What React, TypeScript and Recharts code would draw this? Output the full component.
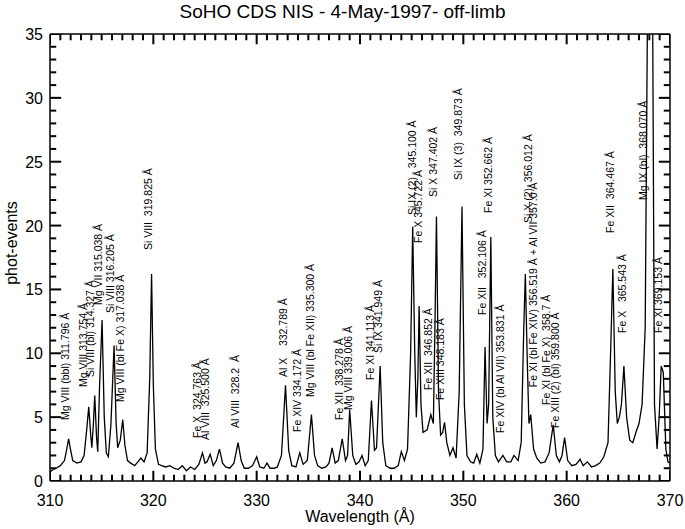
import { ComposedChart, Line, Scatter, XAxis, YAxis } from 'recharts';

// spectrum
const wavelength = [
  310.0, 310.3, 310.6, 311.0, 311.4, 311.6, 311.8, 312.0, 312.2, 312.6,
  313.0, 313.3, 313.55, 313.75, 313.95, 314.05, 314.2, 314.33, 314.5, 314.62,
  314.8, 315.04, 315.25, 315.45, 315.65, 315.9, 316.2, 316.4, 316.55, 316.8,
  317.04, 317.25, 317.5, 317.8, 318.2, 318.6, 318.8, 319.1, 319.4, 319.65,
  319.83, 320.0, 320.2, 320.5, 320.8, 321.2, 321.6, 322.0, 322.4, 322.8,
  323.2, 323.6, 324.0, 324.4, 324.76, 325.0, 325.2, 325.5, 325.8, 326.1,
  326.4, 326.7, 327.0, 327.4, 327.8, 328.2, 328.5, 328.8, 329.2, 329.6,
  330.0, 330.3, 330.7, 331.0, 331.3, 331.7, 332.0, 332.4, 332.79, 333.1,
  333.4, 333.8, 334.17, 334.5, 334.9, 335.3, 335.6, 335.9, 336.3, 336.7,
  337.0, 337.3, 337.6, 337.9, 338.28, 338.6, 338.8, 339.0, 339.3, 339.6,
  339.9, 340.2, 340.5, 340.8, 341.11, 341.4, 341.6, 341.95, 342.2, 342.5,
  342.9, 343.3, 343.7, 344.0, 344.3, 344.6, 344.9, 345.1, 345.3, 345.45,
  345.6, 345.72, 345.9, 346.1, 346.5, 346.85, 347.1, 347.25, 347.4, 347.6,
  347.8, 348.0, 348.18, 348.4, 348.7, 349.0, 349.3, 349.6, 349.87, 350.1,
  350.35, 350.7, 351.0, 351.3, 351.6, 351.9, 352.1, 352.3, 352.45, 352.66,
  352.85, 353.1, 353.4, 353.83, 354.2, 354.6, 354.9, 355.3, 355.6, 355.85,
  356.0, 356.2, 356.35, 356.52, 356.8, 357.1, 357.5, 357.9, 358.3, 358.7,
  359.0, 359.3, 359.55, 359.8, 360.1, 360.5, 360.9, 361.3, 361.6, 362.0,
  362.4, 362.8, 363.2, 363.6, 364.0, 364.25, 364.47, 364.7, 364.9, 365.1,
  365.3, 365.54, 365.8, 366.1, 366.4, 366.7, 367.0, 367.3, 367.6, 367.85,
  368.3, 368.5, 368.75, 368.95, 369.15, 369.35, 369.6, 369.8, 370.0,
];

const counts = [
  0.7, 0.9, 1.0, 1.2, 1.6, 2.4, 3.3, 2.4, 1.6, 1.4,
  1.5, 2.0, 4.0, 5.8, 3.5, 2.6, 4.5, 6.7, 3.5, 2.3,
  7.5, 12.6, 5.0, 2.2, 1.9, 4.5, 10.6, 4.5, 2.6, 3.2,
  4.8, 2.8, 1.6, 1.4, 1.2, 1.6, 1.8, 1.5, 2.2, 8.0,
  16.2, 7.5, 2.5, 1.3, 1.2, 1.1, 1.2, 1.0, 0.9, 1.2,
  0.8, 1.1, 0.9, 1.3, 2.2, 1.4, 1.5, 2.1, 1.2, 1.6,
  2.5, 1.4, 1.1, 1.0, 1.4, 3.0, 1.6, 1.0, 1.0, 1.2,
  1.9, 1.1, 1.0, 1.4, 1.0, 1.0, 1.1, 2.0, 7.5, 2.4,
  1.2, 1.1, 2.2, 1.3, 1.6, 5.2, 2.0, 1.2, 1.0, 1.1,
  1.4, 2.6, 1.4, 1.6, 3.3, 1.6, 2.0, 5.6, 2.0, 1.3,
  1.5, 2.0, 1.2, 1.6, 6.3, 2.4, 2.6, 9.0, 3.0, 1.2,
  1.0, 1.0, 1.2, 2.3, 1.6, 2.5, 10.0, 19.9, 10.0, 5.0,
  8.0, 13.7, 6.0, 3.8, 4.0, 5.2, 4.5, 12.0, 20.7, 7.0,
  3.6, 3.8, 4.6, 3.0, 2.0, 2.6, 1.8, 7.0, 21.5, 6.0,
  2.0, 1.5, 1.4, 2.1, 1.4, 2.5, 10.5, 4.5, 6.0, 19.1,
  5.0, 2.0, 1.5, 2.0, 1.5, 1.5, 2.0, 1.6, 3.0, 12.0,
  16.2, 9.0, 4.5, 5.2, 2.5, 1.8, 1.4, 1.5, 2.2, 4.4,
  2.0, 1.5, 2.0, 3.4, 1.6, 1.2, 1.3, 1.7, 1.2, 1.5,
  1.1, 1.2, 1.4, 1.9, 3.0, 10.0, 16.6, 7.0, 4.5, 5.0,
  6.0, 9.0, 5.0, 3.2, 3.0, 3.8, 4.5, 6.0, 12.0, 40,
  40, 6.0, 2.5, 5.0, 9.0, 8.5, 2.5, 1.5, 1.4,
];

// line identifications
const labelText = [
  'Mg VIII (bbl) 311.796 Å',
  'Mg VIII 313.754 Å',
  'Si VIII (bl) 314.327 Å',
  'Mg VII 315.038 Å',
  'Si VIII 316.205 Å',
  'Mg VIII (bl Fe X) 317.038 Å',
  'Si VIII  319.825 Å',
  'Fe X  324.763 Å',
  'Al VIII  325.500 Å',
  'Al VIII  328.2  Å',
  'Al X    332.789 Å',
  'Fe XIV 334.172 Å',
  'Mg VIII (bl Fe XII) 335.300 Å',
  'Fe XII  338.278 Å',
  'Mg VIII 339.006 Å',
  'Fe XI 341.113 Å',
  'Si IX 341.949 Å',
  'Si IX (2)   345.100 Å',
  'Fe X 345.722 Å',
  'Fe XII  346.852 Å',
  'Si X 347.402 Å',
  'Fe XIII 348.183 Å',
  'Si IX (3)  349.873 Å',
  'Fe XII   352.106 Å',
  'Fe XI 352.662 Å',
  'Fe XIV (bl Al VII) 353.831 Å',
  'Si X (2)  356.012 Å',
  'Fe XI (bl Fe XIV) 356.519 Å + Al VII 357.0 Å',
  'Fe XI (bl Fe X)  358.7 Å',
  'Fe XIII (2) (bl) 359.800 Å',
  'Fe XII  364.467 Å',
  'Fe X   365.543 Å',
  'Mg IX (bl)  368.070 Å',
  'Fe XI 369.153 Å',
];
const labelWl = [
  311.45, 313.19, 313.87, 314.65, 315.81, 316.77, 319.48, 324.23, 325.0, 327.9,
  332.55, 333.9, 335.16, 337.97, 338.84, 340.97, 341.74, 345.03, 345.61, 346.58,
  347.07, 347.74, 349.48, 351.81, 352.39, 353.55, 356.26, 356.74, 358.0, 358.87,
  364.19, 365.35, 367.39, 368.84,
];
const labelAt = [
  4.78, 7.36, 8.14, 13.78, 13.15, 6.19, 18.09, 3.37, 3.21, 4.15,
  8.14, 3.84, 6.58, 4.78, 5.56, 7.91, 10.02, 20.83, 18.64, 7.13,
  22.24, 6.34, 23.57, 13.0, 20.99, 3.76, 20.2, 7.35, 5.95, 4.15,
  19.42, 11.59, 22.0, 11.59,
];

const xTicks = [
  310, 311, 312, 313, 314, 315, 316, 317, 318, 319, 320, 321, 322, 323, 324, 325,
  326, 327, 328, 329, 330, 331, 332, 333, 334, 335, 336, 337, 338, 339, 340, 341,
  342, 343, 344, 345, 346, 347, 348, 349, 350, 351, 352, 353, 354, 355, 356, 357,
  358, 359, 360, 361, 362, 363, 364, 365, 366, 367, 368, 369, 370,
];
const yTicks = [
  0, 1, 2, 3, 4, 5, 6, 7, 8, 9, 10, 11, 12, 13, 14, 15, 16, 17, 18, 19, 20, 21,
  22, 23, 24, 25, 26, 27, 28, 29, 30, 31, 32, 33, 34, 35,
];

const spectrum = wavelength.map((wl, i) => ({ wl, counts: counts[i] }));
const labels = labelText.map((text, i) => ({ wl: labelWl[i], y: labelAt[i], text }));
// tick mark anchors sit a hair inside the frame so the scatter keeps them
const bottomMarks = xTicks.map((wl) => ({ wl, y: 0.02 }));
const topMarks = xTicks.map((wl) => ({ wl, y: 34.98 }));
const leftMarks = yTicks.map((y) => ({ wl: 310.02, y }));
const rightMarks = yTicks.map((y) => ({ wl: 369.98, y }));

const font = '"Liberation Sans", Arial, sans-serif';
const ink = '#000';
const tickWidth = 2;

const BottomTick = ({ x, y, payload }: any) =>
  payload.value % 10 === 0 ? (
    <text x={x} y={y + 25} textAnchor="middle" fontSize={16} fontFamily={font} fill={ink}>
      {payload.value}
    </text>
  ) : (
    <g />
  );

const LeftTick = ({ x, y, payload }: any) =>
  payload.value % 5 === 0 ? (
    <text x={x - 7} y={y + 6} textAnchor="end" fontSize={16} fontFamily={font} fill={ink}>
      {payload.value}
    </text>
  ) : (
    <g />
  );

const NoTick = () => <g />;

// inward tick marks, IDL style
const UpMark = ({ cx, cy, payload }: any) => {
  const len = Math.round(payload.wl) % 10 === 0 ? 10 : 6;
  return <polyline points={`${cx},${cy} ${cx},${cy - len}`} stroke={ink} strokeWidth={tickWidth} fill="none" />;
};
const DownMark = ({ cx, cy, payload }: any) => {
  const len = Math.round(payload.wl) % 10 === 0 ? 10 : 6;
  return <polyline points={`${cx},${cy} ${cx},${cy + len}`} stroke={ink} strokeWidth={tickWidth} fill="none" />;
};
const RightwardMark = ({ cx, cy, payload }: any) => {
  const len = payload.y % 5 === 0 ? 11 : 6;
  return <polyline points={`${cx},${cy} ${cx + len},${cy}`} stroke={ink} strokeWidth={tickWidth} fill="none" />;
};
const LeftwardMark = ({ cx, cy, payload }: any) => {
  const len = payload.y % 5 === 0 ? 11 : 6;
  return <polyline points={`${cx},${cy} ${cx - len},${cy}`} stroke={ink} strokeWidth={tickWidth} fill="none" />;
};

const LineLabel = ({ cx, cy, payload }: any) => (
  <text
    x={cx}
    y={cy}
    transform={`rotate(-90 ${cx} ${cy})`}
    dominantBaseline="central"
    fontSize={10.5}
    fontFamily={font}
    fill={ink}
    style={{ whiteSpace: 'pre' }}
  >
    {payload.text}
  </text>
);

export default function App() {
  return (
    <div style={{ position: 'absolute', left: 0, top: 0, width: 685, height: 529, background: '#fff', fontFamily: font }}>
      <div style={{ position: 'absolute', left: 0, top: 2, width: 685, textAlign: 'center', fontSize: 19, lineHeight: '19px' }}>
        SoHO CDS NIS - 4-May-1997- off-limb
      </div>
      <ComposedChart width={685} height={529} data={spectrum} margin={{ top: 0, right: 0, bottom: 0, left: 0 }}>
        <XAxis
          xAxisId={0}
          dataKey="wl"
          type="number"
          domain={[310, 370]}
          ticks={xTicks}
          interval={0}
          allowDataOverflow
          height={48}
          tickSize={0}
          tickMargin={0}
          tickLine={false}
          tick={BottomTick}
          axisLine={{ stroke: ink, strokeWidth: 1.5 }}
        />
        <XAxis
          xAxisId="top"
          orientation="top"
          type="number"
          domain={[310, 370]}
          ticks={xTicks}
          interval={0}
          height={34}
          tickSize={0}
          tickLine={false}
          tick={NoTick}
          axisLine={{ stroke: ink, strokeWidth: 1.5 }}
        />
        <YAxis
          yAxisId={0}
          type="number"
          domain={[0, 35]}
          ticks={yTicks}
          interval={0}
          allowDataOverflow
          width={50}
          tickSize={0}
          tickMargin={0}
          tickLine={false}
          tick={LeftTick}
          axisLine={{ stroke: ink, strokeWidth: 1.5 }}
        />
        <YAxis
          yAxisId="right"
          orientation="right"
          type="number"
          domain={[0, 35]}
          ticks={yTicks}
          interval={0}
          width={15}
          tickSize={0}
          tickLine={false}
          tick={NoTick}
          axisLine={{ stroke: ink, strokeWidth: 1.5 }}
        />
        <Line
          xAxisId={0}
          yAxisId={0}
          type="linear"
          dataKey="counts"
          stroke={ink}
          strokeWidth={1.3}
          dot={false}
          isAnimationActive={false}
        />
        <Scatter xAxisId={0} yAxisId={0} data={bottomMarks} dataKey="y" shape={UpMark} isAnimationActive={false} />
        <Scatter xAxisId={0} yAxisId={0} data={topMarks} dataKey="y" shape={DownMark} isAnimationActive={false} />
        <Scatter xAxisId={0} yAxisId={0} data={leftMarks} dataKey="y" shape={RightwardMark} isAnimationActive={false} />
        <Scatter xAxisId={0} yAxisId={0} data={rightMarks} dataKey="y" shape={LeftwardMark} isAnimationActive={false} />
        <Scatter
          xAxisId={0}
          yAxisId={0}
          data={labels}
          dataKey="y"
          shape={LineLabel}
          isAnimationActive={false}
        />
      </ComposedChart>
      <div style={{ position: 'absolute', left: 50, top: 508, width: 620, textAlign: 'center', fontSize: 16, lineHeight: '18px' }}>
        Wavelength (Å)
      </div>
      <div
        style={{
          position: 'absolute',
          left: 12 - 100,
          top: 243 - 9,
          width: 200,
          textAlign: 'center',
          fontSize: 16,
          lineHeight: '18px',
          transform: 'rotate(-90deg)',
        }}
      >
        phot-events
      </div>
    </div>
  );
}
